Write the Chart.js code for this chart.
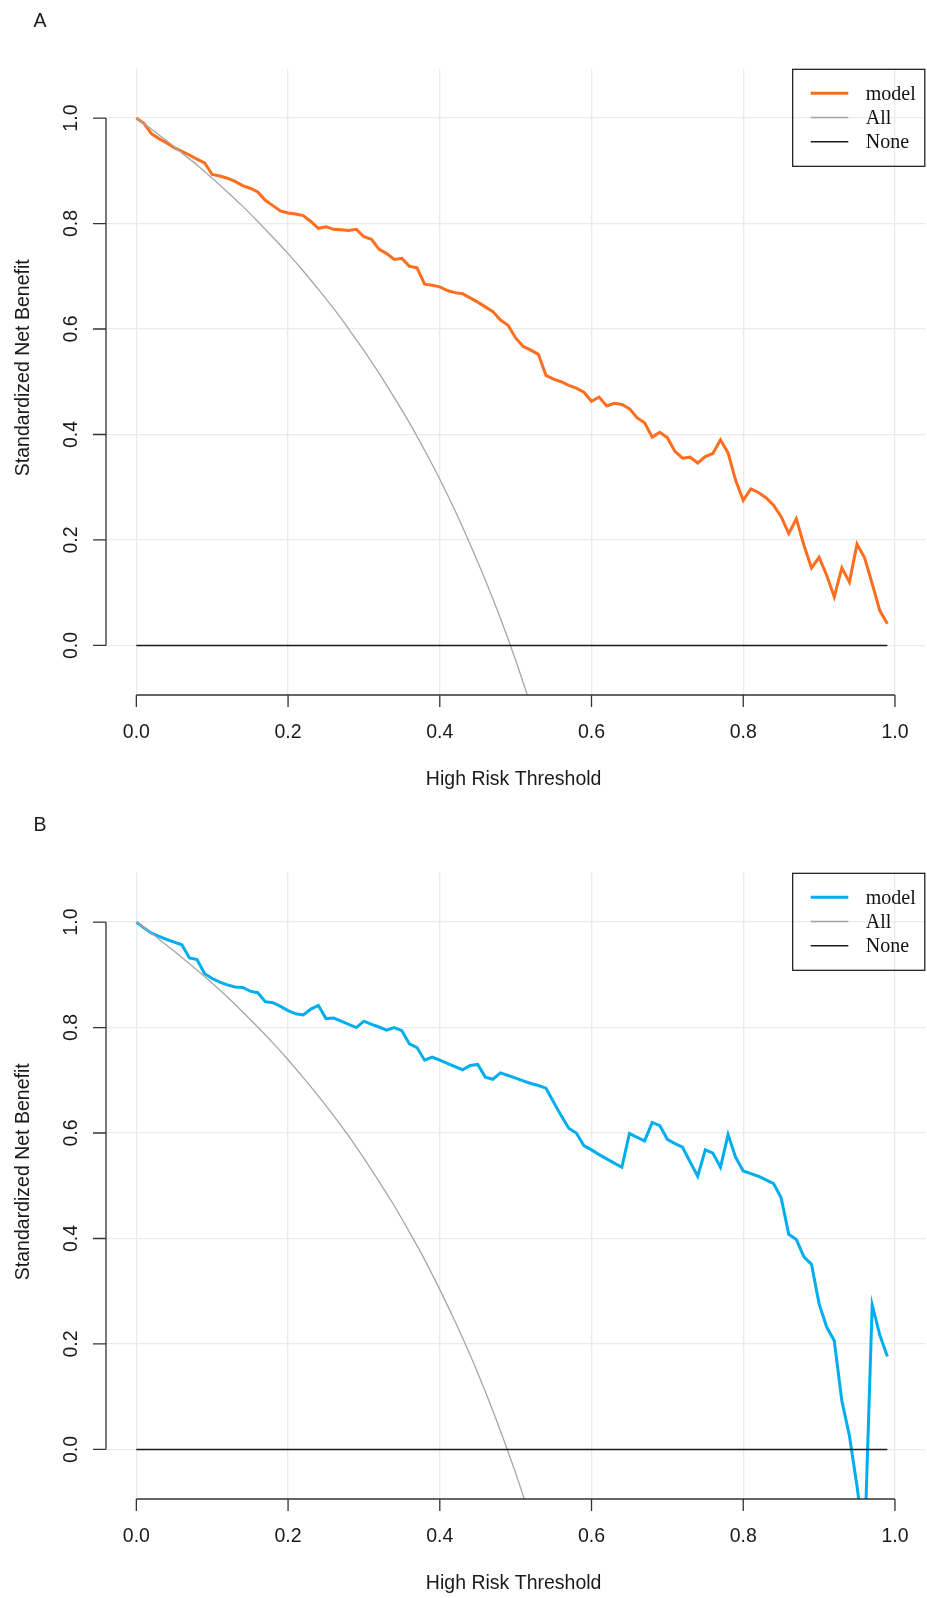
<!DOCTYPE html>
<html>
<head>
<meta charset="utf-8">
<script src="https://cdn.jsdelivr.net/npm/chart.js@4.4.1/dist/chart.umd.min.js"></script>
<style>
  html, body { margin: 0; padding: 0; background: #fff; overflow: hidden; }
  #wrap { position: relative; width: 927px; height: 1598px; }
  canvas { position: absolute; left: 0; }
  #chartA { top: 0; }
  #chartB { top: 804px; }
</style>
</head>
<body>
<div id="wrap">
  <canvas id="chartA" width="927" height="800"></canvas>
  <canvas id="chartB" width="927" height="794"></canvas>
</div>
<script>
// thresholds used by the model curves
var thresholds = [0.00, 0.01, 0.02, 0.03, 0.04, 0.05, 0.06, 0.07, 0.08, 0.09,
	0.10, 0.11, 0.12, 0.13, 0.14, 0.15, 0.16, 0.17, 0.18, 0.19,
	0.20, 0.21, 0.22, 0.23, 0.24, 0.25, 0.26, 0.27, 0.28, 0.29,
	0.30, 0.31, 0.32, 0.33, 0.34, 0.35, 0.36, 0.37, 0.38, 0.39,
	0.40, 0.41, 0.42, 0.43, 0.44, 0.45, 0.46, 0.47, 0.48, 0.49,
	0.50, 0.51, 0.52, 0.53, 0.54, 0.55, 0.56, 0.57, 0.58, 0.59,
	0.60, 0.61, 0.62, 0.63, 0.64, 0.65, 0.66, 0.67, 0.68, 0.69,
	0.70, 0.71, 0.72, 0.73, 0.74, 0.75, 0.76, 0.77, 0.78, 0.79,
	0.80, 0.81, 0.82, 0.83, 0.84, 0.85, 0.86, 0.87, 0.88, 0.89,
	0.90, 0.91, 0.92, 0.93, 0.94, 0.95, 0.96, 0.97, 0.98, 0.99];

var modelA = [1.000, 0.990, 0.970, 0.961, 0.953, 0.944, 0.937, 0.930, 0.922, 0.915,
	0.893, 0.890, 0.886, 0.880, 0.872, 0.867, 0.860, 0.844, 0.834, 0.824,
	0.820, 0.818, 0.815, 0.804, 0.791, 0.794, 0.789, 0.788, 0.787, 0.789,
	0.775, 0.770, 0.751, 0.743, 0.732, 0.734, 0.719, 0.716, 0.685, 0.683,
	0.680, 0.673, 0.669, 0.667, 0.659, 0.651, 0.642, 0.633, 0.617, 0.607,
	0.583, 0.567, 0.560, 0.552, 0.512, 0.505, 0.500, 0.493, 0.488, 0.480,
	0.463, 0.471, 0.454, 0.459, 0.457, 0.449, 0.432, 0.422, 0.395, 0.404,
	0.394, 0.368, 0.355, 0.357, 0.346, 0.358, 0.364, 0.390, 0.365, 0.313,
	0.275, 0.297, 0.290, 0.280, 0.266, 0.244, 0.212, 0.240, 0.190, 0.147,
	0.167, 0.133, 0.092, 0.147, 0.120, 0.192, 0.166, 0.117, 0.066, 0.041];

var modelB = [1.000, 0.989, 0.979, 0.973, 0.967, 0.962, 0.957, 0.932, 0.929, 0.902,
	0.893, 0.886, 0.881, 0.877, 0.876, 0.869, 0.866, 0.849, 0.847, 0.840,
	0.832, 0.826, 0.824, 0.835, 0.842, 0.817, 0.818, 0.812, 0.806, 0.800,
	0.812, 0.806, 0.801, 0.795, 0.800, 0.794, 0.769, 0.762, 0.738, 0.744,
	0.738, 0.732, 0.726, 0.720, 0.728, 0.730, 0.706, 0.702, 0.714, 0.709,
	0.704, 0.699, 0.694, 0.690, 0.685, 0.659, 0.633, 0.609, 0.600, 0.576,
	0.568, 0.559, 0.551, 0.543, 0.535, 0.599, 0.592, 0.585, 0.620, 0.614,
	0.588, 0.580, 0.573, 0.545, 0.518, 0.568, 0.562, 0.535, 0.597, 0.554,
	0.528, 0.523, 0.518, 0.511, 0.504, 0.477, 0.408, 0.398, 0.365, 0.351,
	0.276, 0.232, 0.206, 0.092, 0.026, -0.070, -0.180, 0.274, 0.217, 0.176];

// "All" reference curve
var allThresholds = [0.00, 0.02, 0.04, 0.06, 0.08, 0.10, 0.12, 0.14, 0.16, 0.18,
	0.20, 0.22, 0.24, 0.26, 0.28, 0.30, 0.32, 0.34, 0.36, 0.38,
	0.40, 0.42, 0.44, 0.46, 0.48, 0.50, 0.52];
var allA = [1.000, 0.979, 0.957, 0.934, 0.911, 0.886, 0.860, 0.833, 0.804, 0.774,
	0.743, 0.710, 0.675, 0.639, 0.600, 0.559, 0.516, 0.470, 0.422, 0.370,
	0.315, 0.256, 0.192, 0.124, 0.051, -0.028, -0.114];
var allB = [1.000, 0.979, 0.956, 0.933, 0.909, 0.884, 0.858, 0.830, 0.801, 0.771,
	0.739, 0.705, 0.670, 0.633, 0.594, 0.552, 0.508, 0.462, 0.412, 0.360,
	0.303, 0.243, 0.179, 0.110, 0.035, -0.045, -0.132];

// "None" reference line
var noneThresholds = [0, 0.99];
var noneValues = [0, 0];

var tickValues = [0, 0.2, 0.4, 0.6, 0.8, 1.0];
var legendLabels = ["model", "All", "None"];

function pairs(xs, ys) {
	var out = [];
	for (var i in xs) {
		out.push({x: xs[i], y: ys[i]});
	}
	return out;
}

var SANS = "'Liberation Sans', Arial, sans-serif";
var SERIF = "'Liberation Serif', 'Times New Roman', serif";

// base-R style axes, titles, legend and panel letter
var rStyle = {
	id: 'rStyle',
	afterDraw: function(chart, args, opts) {
		var ctx = chart.ctx;
		var area = chart.chartArea;
		var xs = chart.scales.x;
		var ys = chart.scales.y;
		ctx.save();
		ctx.strokeStyle = "#333";
		ctx.fillStyle = "#1a1a1a";
		ctx.lineWidth = 1.3;

		// bottom axis
		ctx.beginPath();
		ctx.moveTo(xs.getPixelForValue(tickValues[0]), area.bottom);
		ctx.lineTo(xs.getPixelForValue(tickValues[tickValues.length - 1]), area.bottom);
		for (var i in tickValues) {
			var px = xs.getPixelForValue(tickValues[i]);
			ctx.moveTo(px, area.bottom);
			ctx.lineTo(px, area.bottom + 12);
		}
		ctx.stroke();
		ctx.font = "19.5px " + SANS;
		ctx.textAlign = "center";
		ctx.textBaseline = "alphabetic";
		for (var i in tickValues) {
			ctx.fillText(tickValues[i].toFixed(1), xs.getPixelForValue(tickValues[i]), area.bottom + 43);
		}

		// left axis
		ctx.beginPath();
		ctx.moveTo(area.left, ys.getPixelForValue(tickValues[0]));
		ctx.lineTo(area.left, ys.getPixelForValue(tickValues[tickValues.length - 1]));
		for (var i in tickValues) {
			var py = ys.getPixelForValue(tickValues[i]);
			ctx.moveTo(area.left, py);
			ctx.lineTo(area.left - 13, py);
		}
		ctx.stroke();
		for (var i in tickValues) {
			ctx.save();
			ctx.translate(area.left - 29, ys.getPixelForValue(tickValues[i]));
			ctx.rotate(-Math.PI / 2);
			ctx.fillText(tickValues[i].toFixed(1), 0, 0);
			ctx.restore();
		}

		// axis titles
		ctx.fillText("High Risk Threshold", (area.left + area.right) / 2 - 2, area.bottom + 90);
		ctx.save();
		ctx.translate(29, (area.top + area.bottom) / 2 - 14);
		ctx.rotate(-Math.PI / 2);
		ctx.fillText("Standardized Net Benefit", 0, 0);
		ctx.restore();

		// panel letter
		ctx.font = "19.5px " + SANS;
		ctx.textBaseline = "middle";
		ctx.fillText(opts.panel, 40, 22);

		// legend box, top right of plot region
		var lx = area.right - 132.6;
		var ly = area.top + 0.8;
		ctx.strokeStyle = "#111";
		ctx.lineWidth = 1.2;
		ctx.strokeRect(lx, ly, area.right - lx - 0.5, 97);
		ctx.font = "20px " + SERIF;
		ctx.textAlign = "left";
		var order = [2, 1, 0];
		for (var k = 0; k < 3; k++) {
			var ds = chart.data.datasets[order[k]];
			var rowY = ly + 24 + k * 24.2;
			ctx.strokeStyle = ds.borderColor;
			ctx.lineWidth = ds.borderWidth;
			ctx.beginPath();
			ctx.moveTo(lx + 18, rowY);
			ctx.lineTo(lx + 55.6, rowY);
			ctx.stroke();
			ctx.fillStyle = "#111";
			ctx.fillText(legendLabels[k], lx + 73, rowY + 1);
		}
		ctx.restore();
	}
};

function makeChart(id, panel, modelValues, allValues, modelColor, canvasHeight) {
	var ctx = document.getElementById(id);
	return new Chart(ctx, {
		type: 'line',
		data: {
			datasets: [
				{
					label: "None",
					data: pairs(noneThresholds, noneValues),
					borderColor: "#1b1b1b",
					borderWidth: 1.5,
					pointRadius: 0,
					clip: 0
				},
				{
					label: "All",
					data: pairs(allThresholds, allValues),
					borderColor: "#a6a6a6",
					borderWidth: 1.3,
					pointRadius: 0,
					cubicInterpolationMode: 'monotone',
					clip: 0
				},
				{
					label: "model",
					data: pairs(thresholds, modelValues),
					borderColor: modelColor,
					borderWidth: 3,
					pointRadius: 0,
					lineTension: 0,
					clip: 0
				}
			]
		},
		options: {
			responsive: false,
			animation: false,
			layout: { padding: { left: 0, right: 1.7, top: 68.5, bottom: 0 } },
			plugins: {
				legend: { display: false },
				tooltip: { enabled: false },
				rStyle: { panel: panel }
			},
			scales: {
				x: {
					type: 'linear',
					min: -0.04,
					max: 1.04,
					afterBuildTicks: function(s) { s.ticks = tickValues.map(function(v) { return {value: v}; }); },
					afterFit: function(s) { s.height = canvasHeight - 695; },
					ticks: { display: false },
					grid: { color: "#ebebeb", lineWidth: 1.3, drawTicks: false },
					border: { display: false }
				},
				y: {
					type: 'linear',
					min: -0.094,
					max: 1.094,
					afterBuildTicks: function(s) { s.ticks = tickValues.map(function(v) { return {value: v}; }); },
					afterFit: function(s) { s.width = 106; },
					ticks: { display: false },
					grid: { color: "#ebebeb", lineWidth: 1.3, drawTicks: false },
					border: { display: false }
				}
			}
		},
		plugins: [rStyle]
	});
}

var chartA = makeChart("chartA", "A", modelA, allA, "#ff6d1f", 800);
var chartB = makeChart("chartB", "B", modelB, allB, "#00aeef", 794);
</script>
</body>
</html>
